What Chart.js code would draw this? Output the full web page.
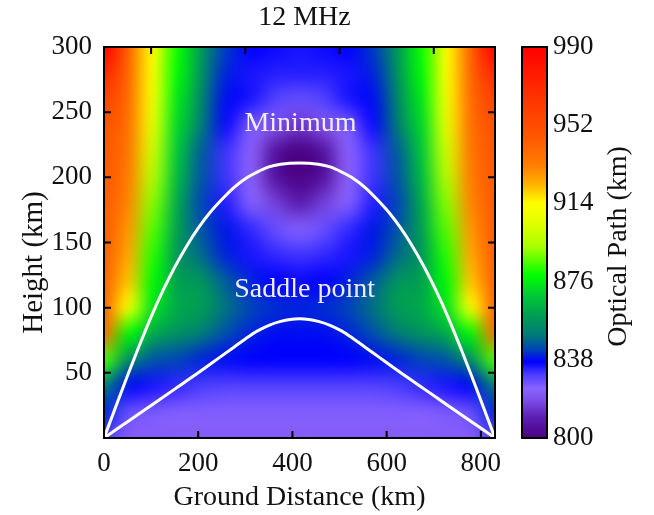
<!DOCTYPE html>
<html lang="en">
<head>
<meta charset="UTF-8">
<title>12 MHz - Optical Path</title>
<script src="https://cdn.jsdelivr.net/npm/chart.js"></script>
<style>
  html, body { margin: 0; padding: 0; background: #fff; }
  #wrap { width: 654px; height: 515px; }
</style>
</head>
<body>
<div id="wrap"><canvas id="chart"></canvas></div>
<script>
// ground distance (km) of the grid columns, height (km) of the grid rows (top to bottom)
const gridX = [0, 51.875, 103.75, 155.625, 207.5, 259.375, 311.25, 363.125, 415,
               466.875, 518.75, 570.625, 622.5, 674.375, 726.25, 778.125, 830];
const gridH = [300, 280, 260, 240, 220, 200, 180, 160, 140, 120, 100, 80, 60, 40, 20, 0];

// optical path (km), one row per height in gridH
const opticalPath = [
  [990, 943, 914, 880, 858, 842, 837, 836, 835, 836, 837, 842, 858, 880, 914, 943, 990],
  [972, 941, 912, 878, 856, 840, 835, 834, 834, 834, 835, 840, 856, 878, 912, 941, 972],
  [958, 939, 909, 875, 853, 838, 835, 830, 828, 830, 835, 838, 853, 875, 909, 939, 958],
  [950, 937, 905, 872, 850, 836, 826, 819, 814, 819, 826, 836, 850, 872, 905, 937, 950],
  [947, 935, 900, 869, 846, 832, 823, 806, 800, 806, 823, 832, 846, 869, 900, 935, 947],
  [946, 933, 895, 866, 845, 832, 823, 806, 801, 806, 823, 832, 845, 866, 895, 933, 946],
  [945, 931, 890, 862, 843, 834, 825, 816, 809, 816, 825, 834, 843, 862, 890, 931, 945],
  [945, 928, 886, 860, 845, 839, 833, 828, 825, 828, 833, 839, 845, 860, 886, 928, 945],
  [944, 925, 882, 858, 848, 840, 835, 833, 832, 833, 835, 840, 848, 858, 882, 925, 944],
  [943, 921, 878, 860, 857, 846, 840, 837, 836, 837, 840, 846, 857, 860, 878, 921, 943],
  [942, 910, 874, 862, 859, 849, 843, 841, 840, 841, 843, 849, 859, 862, 874, 910, 942],
  [938, 878, 862, 856, 850, 844, 840, 838, 838, 838, 840, 844, 850, 856, 862, 878, 938],
  [885, 855, 845, 843, 840, 838, 837, 837, 837, 837, 837, 838, 840, 843, 845, 855, 885],
  [852, 838, 835, 833, 831, 830, 830, 830, 830, 830, 830, 830, 831, 833, 835, 838, 852],
  [840, 828, 826, 825, 825, 825, 825, 825, 825, 825, 825, 825, 825, 825, 826, 828, 840],
  [830, 822, 822, 822, 822, 822, 822, 822, 822, 822, 822, 822, 822, 822, 822, 822, 830]
];

// the two ray paths
const outerX = [0, 25, 50, 75, 100, 125, 150, 175, 200, 225, 250, 275, 300, 325, 350, 375, 415,
                455, 480, 505, 530, 555, 580, 605, 630, 655, 680, 705, 730, 755, 780, 805, 830];
const outerH = [0, 24, 48, 71, 93, 113, 131, 147, 161, 173, 183, 192, 199, 204, 208, 210, 211,
                210, 208, 204, 199, 192, 183, 173, 161, 147, 131, 113, 93, 71, 48, 24, 0];
const innerX = [0, 50, 100, 150, 200, 250, 275, 300, 325, 350, 375, 395, 415,
                435, 455, 480, 505, 530, 555, 580, 630, 680, 730, 780, 830];
const innerH = [0, 12.5, 25, 37.5, 50, 63, 69.5, 76, 82, 86.5, 89.5, 91, 91.5,
                91, 89.5, 86.5, 82, 76, 69.5, 63, 50, 37.5, 25, 12.5, 0];

const xTicks = [0, 200, 400, 600, 800];
const xTopTicks = [100, 300, 500, 700];
const yTicks = [50, 100, 150, 200, 250, 300];
const cbTicks = [800, 838, 876, 914, 952, 990];

// colour scale
const cmapValues = [800, 810, 818, 824, 831, 837, 843, 850, 860, 869, 879, 893, 904, 914, 923, 932, 945, 969, 990];
const cmapColors = ['#4b0082', '#5c1fb4', '#7a4ce6', '#8b64ff', '#4a3cff', '#0000ff', '#0045b8', '#007a78',
                    '#00a050', '#00c838', '#00ff00', '#a8ff00', '#e0ff00', '#ffff00', '#ffb400', '#ff8000',
                    '#ff5a00', '#ff2c00', '#ff0000'];

const serif = '"Liberation Serif", "Times New Roman", serif';

function hexRgb(h) {
  return [parseInt(h.slice(1, 3), 16), parseInt(h.slice(3, 5), 16), parseInt(h.slice(5, 7), 16)];
}
const cmapRgb = cmapColors.map(hexRgb);

function colorFor(v) {
  if (v <= cmapValues[0]) return cmapRgb[0];
  const n = cmapValues.length;
  if (v >= cmapValues[n - 1]) return cmapRgb[n - 1];
  let i = 1;
  while (cmapValues[i] < v) i++;
  const t = (v - cmapValues[i - 1]) / (cmapValues[i] - cmapValues[i - 1]);
  const a = cmapRgb[i - 1], b = cmapRgb[i];
  return [0, 1, 2].map(k => Math.round(a[k] + (b[k] - a[k]) * t));
}

// heat map under the lines
const heatPlugin = {
  id: 'heat',
  beforeDatasetsDraw(chart) {
    const {ctx, chartArea: a, scales: {x, y}} = chart;
    const nx = gridX.length, ny = gridH.length;
    const off = document.createElement('canvas');
    off.width = nx; off.height = ny;
    const octx = off.getContext('2d');
    const img = octx.createImageData(nx, ny);
    for (let j = 0; j < ny; j++) {
      for (let i = 0; i < nx; i++) {
        const c = colorFor(opticalPath[j][i]);
        const p = (j * nx + i) * 4;
        img.data[p] = c[0]; img.data[p + 1] = c[1]; img.data[p + 2] = c[2]; img.data[p + 3] = 255;
      }
    }
    octx.putImageData(img, 0, 0);
    const dx = (gridX[nx - 1] - gridX[0]) / (nx - 1);
    const dh = (gridH[0] - gridH[ny - 1]) / (ny - 1);
    const left = x.getPixelForValue(gridX[0] - dx / 2);
    const right = x.getPixelForValue(gridX[nx - 1] + dx / 2);
    const top = y.getPixelForValue(gridH[0] + dh / 2);
    const bottom = y.getPixelForValue(gridH[ny - 1] - dh / 2);
    ctx.save();
    ctx.beginPath();
    ctx.rect(a.left, a.top, a.width, a.height);
    ctx.clip();
    ctx.imageSmoothingEnabled = true;
    ctx.imageSmoothingQuality = 'high';
    ctx.drawImage(off, left, top, right - left, bottom - top);
    ctx.restore();
  }
};

// frame, inward ticks, labels, colour bar
const decoPlugin = {
  id: 'deco',
  afterDatasetsDraw(chart) {
    const {ctx, scales: {x, y}} = chart;
    ctx.save();
    ctx.fillStyle = '#f2ecff';
    ctx.font = '28px ' + serif;
    ctx.textAlign = 'center';
    ctx.textBaseline = 'middle';
    ctx.fillText('Minimum', x.getPixelForValue(417), y.getPixelForValue(241));
    ctx.fillText('Saddle point', x.getPixelForValue(426), y.getPixelForValue(114));
    ctx.restore();
  },
  afterDraw(chart) {
    const {ctx, chartArea: a, scales: {x, y, cb}} = chart;
    const tl = 7;
    ctx.save();
    ctx.strokeStyle = '#000';
    ctx.lineWidth = 2;
    ctx.beginPath();
    xTicks.forEach(v => { const px = x.getPixelForValue(v); ctx.moveTo(px, a.bottom); ctx.lineTo(px, a.bottom - tl); });
    xTopTicks.forEach(v => { const px = x.getPixelForValue(v); ctx.moveTo(px, a.top); ctx.lineTo(px, a.top + tl); });
    yTicks.forEach(v => {
      const py = y.getPixelForValue(v);
      ctx.moveTo(a.left, py); ctx.lineTo(a.left + tl, py);
      ctx.moveTo(a.right, py); ctx.lineTo(a.right - tl, py);
    });
    ctx.stroke();
    ctx.strokeRect(a.left, a.top, a.width, a.height);

    // colour bar
    const bx = a.right + 27, bw = 25;
    const t = Math.round(cb.getPixelForValue(cbTicks[cbTicks.length - 1]));
    const b = Math.round(cb.getPixelForValue(cbTicks[0]));
    for (let py = t; py < b; py++) {
      const c = colorFor(cb.getValueForPixel(py + 0.5));
      ctx.fillStyle = 'rgb(' + c.join(',') + ')';
      ctx.fillRect(bx, py, bw, 1);
    }
    ctx.strokeRect(bx, t, bw, b - t);

    ctx.fillStyle = '#111';
    ctx.font = '28px ' + serif;
    ctx.textAlign = 'center';
    ctx.textBaseline = 'middle';
    ctx.fillText('12 MHz', (a.left + a.right) / 2 + 5, a.top - 29);

    ctx.save();
    ctx.font = '29px ' + serif;
    ctx.translate(a.left - 70, (a.top + a.bottom) / 2 + 20);
    ctx.rotate(-Math.PI / 2);
    ctx.fillText('Height (km)', 0, 0);
    ctx.restore();

    ctx.translate(a.right + 124, (a.top + a.bottom) / 2 + 4);
    ctx.rotate(-Math.PI / 2);
    ctx.fillText('Optical Path (km)', 0, 0);
    ctx.restore();
  }
};

const tickFont = {family: serif, size: 27};
const titleFont = {family: serif, size: 28};

new Chart(document.getElementById('chart'), {
  type: 'scatter',
  data: {
    datasets: [
      {
        data: outerX.map((v, i) => ({x: v, y: outerH[i]})),
        showLine: true, borderColor: '#ffffff', borderWidth: 3, pointRadius: 0,
        cubicInterpolationMode: 'monotone'
      },
      {
        data: innerX.map((v, i) => ({x: v, y: innerH[i]})),
        showLine: true, borderColor: '#ffffff', borderWidth: 3, pointRadius: 0,
        cubicInterpolationMode: 'monotone'
      }
    ]
  },
  options: {
    responsive: true,
    maintainAspectRatio: false,
    animation: false,
    layout: {padding: {top: 47, left: 0, right: 0, bottom: 0}},
    plugins: {
      legend: {display: false},
      tooltip: {enabled: false},
      title: {display: false}
    },
    scales: {
      x: {
        type: 'linear', min: 0, max: 830,
        grid: {display: false, drawTicks: false}, border: {display: false},
        afterBuildTicks: s => { s.ticks = xTicks.map(v => ({value: v})); },
        afterFit: s => { s.height = 77; },
        ticks: {color: '#111', font: tickFont, padding: 10, maxRotation: 0},
        title: {display: true, text: 'Ground Distance (km)', color: '#111', font: titleFont, padding: {top: 0, bottom: 1}}
      },
      y: {
        type: 'linear', min: 0, max: 300,
        grid: {display: false, drawTicks: false}, border: {display: false},
        afterBuildTicks: s => { s.ticks = yTicks.map(v => ({value: v})); },
        afterFit: s => { s.width = 104; },
        ticks: {color: '#111', font: tickFont, padding: 12}
      },
      cb: {
        type: 'linear', position: 'right', min: 800, max: 990,
        grid: {display: false, drawTicks: true, tickLength: 56}, border: {display: false},
        afterBuildTicks: s => { s.ticks = cbTicks.map(v => ({value: v})); },
        afterFit: s => { s.width = 159; },
        ticks: {color: '#111', font: tickFont, padding: 2}
      }
    }
  },
  plugins: [heatPlugin, decoPlugin]
});
</script>
</body>
</html>
